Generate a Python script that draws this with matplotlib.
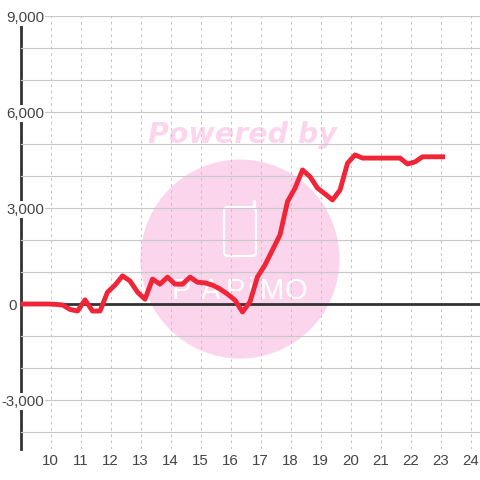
import matplotlib
matplotlib.use("Agg")
import matplotlib.pyplot as plt
from matplotlib.patches import Circle, FancyBboxPatch
from matplotlib.transforms import IdentityTransform
from matplotlib.ticker import FixedLocator

W, H = 480, 480
hours = [9.0] + [9.15 + 0.25 * k for k in range(57)]
values = [0, 0, 0, 0, 0, -10, -30, -170, -220, 130, -220, -220, 370, 590, 880, 720, 370, 150,
          780, 620, 840, 620, 620, 840, 680, 660, 590, 470, 310, 120, -250, 70, 850, 1220, 1690,
          2160, 3200, 3620, 4190, 3980, 3620, 3440, 3250, 3560, 4400, 4660, 4560, 4560, 4560,
          4560, 4560, 4560, 4375, 4440, 4600, 4600, 4600, 4600]
x_ticks = list(range(10, 25))
y_major = [9000, 6000, 3000, 0, -3000]
y_minor = [8000, 7000, 5000, 4000, 2000, 1000, -1000, -2000, -4000]
y_labels = ["9,000", "6,000", "3,000", "0", "-3,000"]

plt.rcParams["font.family"] = ["Liberation Sans", "DejaVu Sans"]
fig = plt.figure(figsize=(W / 100, H / 100), dpi=100)
L, R, T, B = 20.5, 480, 16, 449
ax = fig.add_axes([L / W, 1 - B / H, (R - L) / W, (B - T) / H])
ax.set_xlim(9, 9 + (R - L) / 30)
ax.set_ylim(-(B - 304) * 31.25, (304 - T) * 31.25)

for s in ["top", "right", "bottom"]:
    ax.spines[s].set_visible(False)
ax.spines["left"].set_linewidth(2.0)
ax.spines["left"].set_color("#333333")
ax.spines["left"].set_zorder(1)
ax.set_axisbelow(False)

# watermark, positioned in figure pixels
px = IdentityTransform()
def P(x, y):
    return (x, H - y)
PINK = "#fbd5ec"
ax.add_patch(Circle(P(240, 259), 99.5, transform=px, fc=PINK, ec="none", zorder=0.2, clip_on=False))
ax.text(*P(242, 135), "Powered by", transform=px, ha="center", va="center", fontsize=20.5,
        family="DejaVu Sans", weight="bold", style="italic", color=PINK, zorder=0.2)
ax.add_patch(FancyBboxPatch(P(224, 256), 32, 49, boxstyle="round,pad=0,rounding_size=4", transform=px,
                            fc="none", ec="white", lw=1.6, zorder=0.3, clip_on=False))
ax.plot([254, 254], [H - 208, H - 201], transform=px, color="white", lw=2.4,
        solid_capstyle="round", zorder=0.3)
for cx, ch in zip([181, 211, 235, 251, 272, 296], "PAPiMO"):
    ax.text(*P(cx, 291), ch, transform=px, ha="center", va="center", fontsize=21, color="white",
            family="Liberation Sans", zorder=0.3)

ax.xaxis.set_major_locator(FixedLocator(x_ticks))
ax.yaxis.set_major_locator(FixedLocator(y_major))
ax.yaxis.set_minor_locator(FixedLocator(y_minor))
ax.set_yticklabels(y_labels)
ax.grid(True, axis="y", which="both", color="#c8c8c8", lw=0.85, ls="-")
ax.grid(True, axis="x", which="major", color="#c4c4c4", lw=0.75, ls=(0, (2.5, 3.5)))
ax.tick_params(axis="both", which="both", length=0)
ax.tick_params(axis="x", labelsize=10.8, labelcolor="#444444", pad=3.5)
ax.tick_params(axis="y", labelsize=10.8, labelcolor="#444444", pad=-17)
for tick, value in zip(ax.yaxis.get_major_ticks(), y_major):
    if value == 0:
        tick.set_pad(2.5)
    else:
        tick.label1.set_bbox(dict(fc="white", ec="none", pad=1.0))

ax.axhline(0, color="#333333", lw=2.0, zorder=2.6)
ax.plot(hours, values, color="#f02538", lw=3.5, solid_joinstyle="round", solid_capstyle="butt", zorder=3, clip_on=False)

fig.savefig("out.png", dpi=100)
